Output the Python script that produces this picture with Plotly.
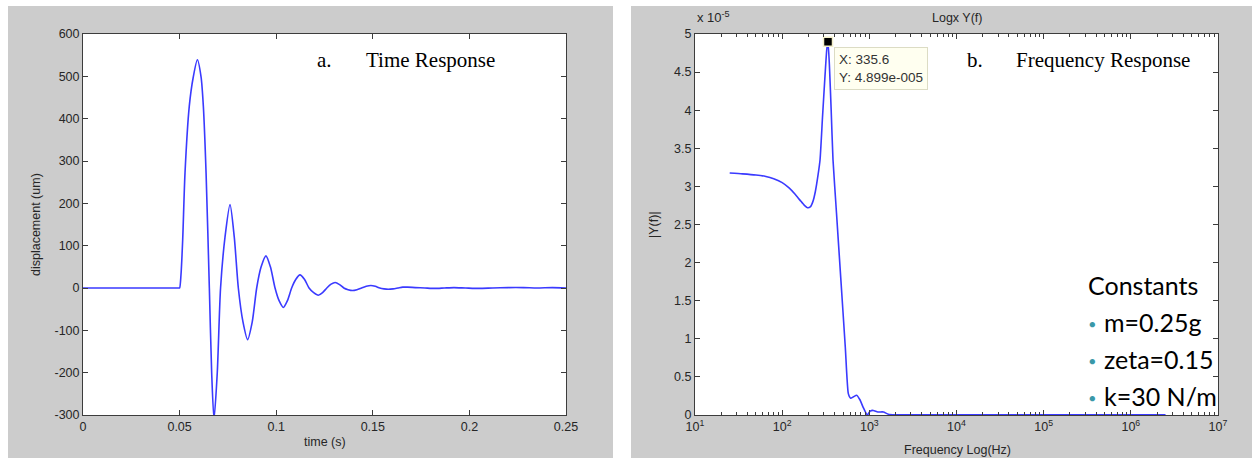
import plotly.graph_objects as go

# ---------------- data ----------------
# a. time response (s, um)
time_s = [0, 0.0450, 0.0495, 0.0500, 0.0507, 0.0516, 0.0528, 0.0550, 0.0571, 0.0592,
          0.0611, 0.0623, 0.0637, 0.0654, 0.0666, 0.0678, 0.0695, 0.0712, 0.0735, 0.0761,
          0.0783, 0.0804, 0.0828, 0.0852, 0.0876, 0.0899, 0.0922, 0.0947, 0.0970, 0.0994,
          0.1015, 0.1037, 0.1058, 0.1080, 0.1101, 0.1123, 0.1147, 0.1170, 0.1194, 0.1218,
          0.1240, 0.1262, 0.1284, 0.1305, 0.1328, 0.1350, 0.1372, 0.1395, 0.1418, 0.1442,
          0.1466, 0.1490, 0.1513, 0.1536, 0.1558, 0.1580, 0.1605, 0.1630, 0.1655, 0.1680,
          0.1720, 0.1770, 0.1820, 0.1870, 0.1920, 0.1980, 0.2050, 0.2120, 0.2200, 0.2280,
          0.2350, 0.2430, 0.2500]
displacement_um = [0, 0, 0, 0, 30, 114, 272, 429, 499, 539,
                   499, 429, 272, 0, -200, -310, -200, 0, 120, 197,
                   120, 0, -80, -122, -80, 0, 50, 76, 50, 0,
                   -30, -46, -30, 0, 20, 31, 20, 0, -11, -17,
                   -11, 0, 9, 13, 8, 0, -4, -6, -4, 0,
                   4, 6, 4, 0, -2, -3, -2, 0, 2, 2,
                   1, 0, -1, 0, 1, 0, -1, 0, 1, 1,
                   0, 1, 0]

# b. frequency response (Hz, |Y(f)| in units of 1e-5)
freq_hz = [25, 35, 50, 65, 80, 100, 120, 140, 160, 180,
           195, 210, 225, 240, 258, 272, 290, 310, 325, 335.6,
           348, 365, 383, 420, 470, 530, 574, 610, 660, 716,
           780, 850, 948, 1020, 1110, 1250, 1450, 1650, 2000, 5000,
           10000, 100000, 1000000, 2500000]
amp_e5 = [3.175, 3.165, 3.15, 3.13, 3.10, 3.05, 2.98, 2.90, 2.82, 2.75,
          2.72, 2.73, 2.80, 2.93, 3.15, 3.35, 3.9, 4.45, 4.8, 4.899,
          4.6, 4.0, 3.35, 2.65, 1.8, 0.89, 0.28, 0.22, 0.24, 0.26,
          0.2, 0.1, 0.0, 0.05, 0.06, 0.04, 0.04, 0.01, 0.003, 0.003,
          0.003, 0.003, 0.003, 0.003]
amp = [v * 1e-5 for v in amp_e5]

peak_f = 335.6
peak_y = 4.899e-5

t_ticks = [0, 0.05, 0.1, 0.15, 0.2, 0.25]
t_ticktext = ["0", "0.05", "0.1", "0.15", "0.2", "0.25"]
d_ticks = [-300, -200, -100, 0, 100, 200, 300, 400, 500, 600]
d_ticktext = ["-300", "-200", "-100", "0", "100", "200", "300", "400", "500", "600"]
f_ticks = [1e1, 1e2, 1e3, 1e4, 1e5, 1e6, 1e7]
f_ticktext = ["10<sup>%d</sup>" % k for k in range(1, 8)]
a_ticks_e5 = [0, 0.5, 1, 1.5, 2, 2.5, 3, 3.5, 4, 4.5, 5]
a_ticktext = ["0", "0.5", "1", "1.5", "2", "2.5", "3", "3.5", "4", "4.5", "5"]
constants = ["m=0.25g", "zeta=0.15", "k=30 N/m"]

# ---------------- layout helpers ----------------
W, H = 1252, 460
def px(x):
    return x / W
def py(y):
    return 1 - y / H

LINE = "#3a3aff"
AXC = "#3c3c3c"
TXT = "#262626"
TICKFONT = dict(family="Liberation Sans, Arial, sans-serif", size=12.5, color=TXT)

fig = go.Figure()
fig.add_trace(go.Scatter(x=time_s, y=displacement_um, mode="lines",
                         line=dict(color=LINE, width=1.6, shape="spline", smoothing=0.7),
                         xaxis="x", yaxis="y", showlegend=False, hoverinfo="skip"))
fig.add_trace(go.Scatter(x=freq_hz, y=amp, mode="lines",
                         line=dict(color=LINE, width=1.6, shape="spline", smoothing=0.5),
                         xaxis="x2", yaxis="y2", showlegend=False, hoverinfo="skip"))
fig.add_trace(go.Scatter(x=[peak_f], y=[peak_y], mode="markers",
                         marker=dict(symbol="square", size=9, color="black",
                                     line=dict(color="#f3efc9", width=1.5)),
                         xaxis="x2", yaxis="y2", showlegend=False, hoverinfo="skip",
                         cliponaxis=False))

axis_common = dict(showgrid=False, zeroline=False, showline=True, linecolor=AXC, linewidth=1,
                   mirror="ticks", ticks="inside", ticklen=5, tickcolor=AXC, tickwidth=1,
                   tickfont=TICKFONT, automargin=False)

fig.update_layout(
    width=W, height=H,
    margin=dict(l=0, r=0, t=0, b=0, pad=0),
    paper_bgcolor="white", plot_bgcolor="white",
    xaxis=dict(domain=[px(83), px(566)], range=[0, 0.25], tickvals=t_ticks,
               ticktext=t_ticktext, anchor="y", **axis_common),
    yaxis=dict(domain=[py(415), py(34)], range=[-300, 600], tickvals=d_ticks,
               ticktext=d_ticktext, anchor="x", **axis_common),
    xaxis2=dict(domain=[px(695), px(1218)], type="log", range=[1, 7], tickvals=f_ticks,
                ticktext=f_ticktext, anchor="y2",
                minor=dict(ticks="inside", ticklen=3, tickcolor=AXC, dtick="D1", showgrid=False),
                **axis_common),
    yaxis2=dict(domain=[py(415), py(34)], range=[0, 5e-5],
                tickvals=[v * 1e-5 for v in a_ticks_e5], ticktext=a_ticktext,
                anchor="x2", **axis_common),
)

# gray panels behind the axes
fig.add_shape(type="rect", xref="paper", yref="paper", x0=px(8), x1=px(613), y0=py(458), y1=py(6),
              fillcolor="#cccccc", line=dict(width=0), layer="below")
fig.add_shape(type="rect", xref="paper", yref="paper", x0=px(631), x1=px(1252), y0=py(458), y1=py(6),
              fillcolor="#cccccc", line=dict(width=0), layer="below")
for xr, yr in (("x domain", "y domain"), ("x2 domain", "y2 domain")):
    fig.add_shape(type="rect", xref=xr, yref=yr, x0=0, x1=1, y0=0, y1=1,
                  fillcolor="white", line=dict(width=0), layer="below")

ann = []
def text(x, y, s, size=12.5, color=TXT, family="Liberation Sans, Arial, sans-serif",
         xanchor="center", yanchor="middle", angle=0):
    ann.append(dict(x=px(x), y=py(y), xref="paper", yref="paper", text=s, showarrow=False,
                    font=dict(size=size, color=color, family=family),
                    xanchor=xanchor, yanchor=yanchor, textangle=angle))

# axis titles
text(36, 225, "displacement (um)", angle=-90)
text(325, 442, "time (s)")
text(654, 225, "|Y(f)|", angle=-90)
text(957, 450, "Frequency Log(Hz)")
text(957, 18, "Logx Y(f)")
text(695, 17, "x 10<sup>-5</sup>", size=13, xanchor="left")

# panel labels
SERIF = "Liberation Serif, Times New Roman, serif"
text(315, 60, "a.", size=21, color="black", family=SERIF, xanchor="left")
text(364, 60, "Time Response", size=21, color="black", family=SERIF, xanchor="left")
text(965, 60, "b.", size=21, color="black", family=SERIF, xanchor="left")
text(1014, 60, "Frequency Response", size=21, color="black", family=SERIF, xanchor="left")

# constants box
SANS2 = "Lato, Noto Sans, sans-serif"
text(1086, 285, "Constants", size=25, color="black", family=SANS2, xanchor="left")
for i, s in enumerate(constants):
    yy = 322 + i * 37
    text(1092, yy + 1, "\u25CF", size=11, color="#3a98a8", family=SANS2)
    text(1102, yy, s, size=25, color="black", family=SANS2, xanchor="left")

fig.update_layout(annotations=ann)

# data tip
fig.add_annotation(x=2.5258, y=peak_y, xref="x2", yref="y2", showarrow=False,
                   text="X: 335.6<br>Y: 4.899e-005", align="left",
                   font=dict(size=13.5, color="#333333", family="Liberation Sans, Arial, sans-serif"),
                   bgcolor="#fffff0", bordercolor="#dcdcc4", borderwidth=1, borderpad=4,
                   xanchor="left", yanchor="top", xshift=6, yshift=-5)

fig.write_html("out.html", config={"displayModeBar": False},
               post_script="document.body.style.margin='0px';document.body.style.overflow='hidden';")
